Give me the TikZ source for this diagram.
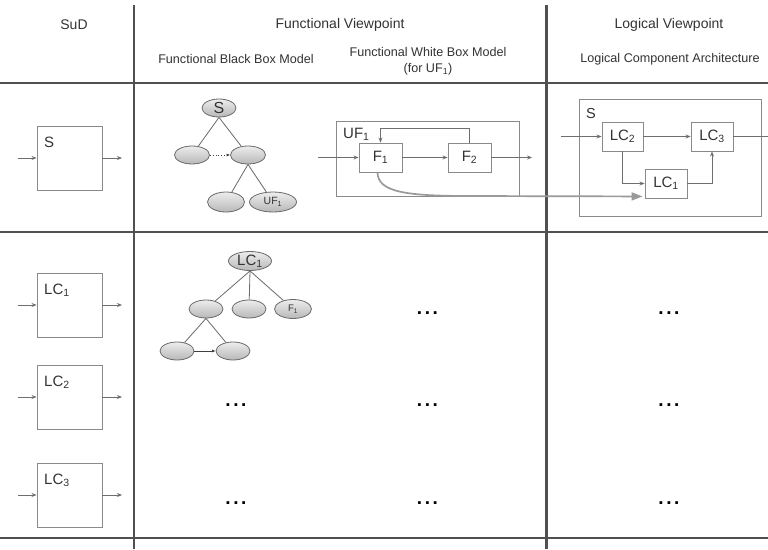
\documentclass[tikz,border=0pt]{standalone}
\usepackage{fontspec}
\setmainfont{Liberation Sans}
\usetikzlibrary{arrows.meta,shapes.geometric,calc}
\definecolor{gridc}{HTML}{505050}
\definecolor{txt}{HTML}{333333}
\definecolor{boxc}{HTML}{8A8A8A}
\definecolor{arrc}{HTML}{6E6E6E}
\definecolor{ellc}{HTML}{6A6A6A}
\definecolor{curvec}{HTML}{9A9A9A}
\newcommand{\subs}[1]{\textsubscript{#1}}
\newcommand{\mydots}{.\kern2.6pt.\kern2.6pt.}
\begin{document}
\begin{tikzpicture}[x=1pt,y=-1pt,
  grid/.style={draw=gridc,line width=2.3pt},
  hdr/.style={font=\fontsize{14}{16}\selectfont,text=txt,inner sep=0},
  subhdr/.style={font=\fontsize{12.6}{16}\selectfont,text=txt,inner sep=0},
  sbox/.style={draw=boxc,line width=0.9pt,inner sep=0,minimum width=65pt,minimum height=64pt},
  fbox/.style={draw=boxc,line width=0.9pt,inner sep=0,minimum width=43pt,minimum height=29pt,font=\fontsize{15}{15}\selectfont,text=txt},
  lab/.style={inner sep=0,anchor=base west,font=\fontsize{15}{15}\selectfont,text=txt},
  frame/.style={draw=boxc,line width=0.9pt,inner sep=0},
  arr/.style={draw=arrc,line width=0.8pt,-{Stealth[length=5pt,width=4pt]}},
  plain/.style={draw=arrc,line width=0.8pt},
  tnode/.style={ellipse,draw=ellc,line width=0.8pt,top color=white!93!black,bottom color=white!72!black,inner sep=0,text=txt},
  tline/.style={draw=ellc,line width=0.8pt},
  dotsn/.style={font=\fontsize{19}{19}\selectfont\bfseries,anchor=base,inner sep=0,text=black}
]
\useasboundingbox (0,0) rectangle (768,549);
\fill[white] (0,0) rectangle (768,549);

% grid
\draw[grid] (0,83) -- (768,83);
\draw[grid] (0,232) -- (768,232);
\draw[grid] (0,538) -- (768,538);
\draw[grid] (134,5) -- (134,549);
\draw[grid] (546.5,5) -- (546.5,549);

% headers
\node[hdr] (hsud) at (74,25) {SuD};
\node[hdr] (hfv) at (340,25) {Functional Viewpoint};
\node[hdr] (hlv) at (669,25) {Logical Viewpoint};
\node[subhdr] (hbb) at (236,59) {Functional Black Box Model};
\node[subhdr,align=center] (hwb) at (428,61) {Functional White Box Model\\(for UF\subs{1})};
\node[subhdr] (hla) at (670,59) {Logical Component Architecture};

% SuD boxes
\node[sbox] (sS) at (69.5,158) {};
\node[lab] (sSl) at (44,147) {S};
\coordinate (sSin) at (18,158);
\coordinate (sSout) at (122,158);
\draw[arr] (sSin) -- (sS.west);
\draw[arr] (sS.east) -- (sSout);

\node[sbox] (sL1) at (69.5,305) {};
\node[lab] (sL1l) at (44,294) {LC\subs{1}};
\coordinate (sL1in) at (18,305);
\coordinate (sL1out) at (122,305);
\draw[arr] (sL1in) -- (sL1.west);
\draw[arr] (sL1.east) -- (sL1out);

\node[sbox] (sL2) at (69.5,397) {};
\node[lab] (sL2l) at (44,386) {LC\subs{2}};
\coordinate (sL2in) at (18,397);
\coordinate (sL2out) at (122,397);
\draw[arr] (sL2in) -- (sL2.west);
\draw[arr] (sL2.east) -- (sL2out);

\node[sbox] (sL3) at (69.5,495) {};
\node[lab] (sL3l) at (44,484) {LC\subs{3}};
\coordinate (sL3in) at (18,495);
\coordinate (sL3out) at (122,495);
\draw[arr] (sL3in) -- (sL3.west);
\draw[arr] (sL3.east) -- (sL3out);

% black box tree (row 1)
\node[tnode,minimum width=34pt,minimum height=18pt,font=\fontsize{16}{16}\selectfont] (t1S) at (219,108) {S};
\node[tnode,minimum width=35pt,minimum height=18pt] (t1L) at (192,155) {};
\node[tnode,minimum width=35pt,minimum height=18pt] (t1R) at (248,155) {};
\node[tnode,minimum width=37pt,minimum height=20pt] (t1BL) at (226,202) {};
\node[tnode,minimum width=47pt,minimum height=20pt,font=\fontsize{10.5}{10}\selectfont] (t1UF) at (273,202) {UF\subs{1}};
\draw[tline] (t1S.south) -- (t1L);
\draw[tline] (t1S.south) -- (t1R);
\draw[tline] (t1R.south) -- (t1BL);
\draw[tline] (t1R.south) -- (t1UF);
\draw[draw=black!75,line width=0.8pt,dotted,-{Latex[length=3.5pt,width=3pt]}] (t1L.east) -- (t1R.west);

% black box tree (row 2)
\node[tnode,minimum width=43pt,minimum height=19pt,font=\fontsize{15}{15}\selectfont] (t2R) at (250,261) {LC\subs{1}};
\node[tnode,minimum width=34pt,minimum height=18pt] (t2L) at (206,309) {};
\node[tnode,minimum width=34pt,minimum height=18pt] (t2M) at (249,309) {};
\node[tnode,minimum width=37pt,minimum height=19pt,font=\fontsize{9.5}{9}\selectfont] (t2F) at (293,309) {F\subs{1}};
\node[tnode,minimum width=34pt,minimum height=18pt] (t2BL) at (177,351) {};
\node[tnode,minimum width=34pt,minimum height=18pt] (t2BR) at (233,351) {};
\draw[tline] (t2R.south) -- (t2L);
\draw[tline] (t2R.south) -- (t2M);
\draw[tline] (t2R.south) -- (t2F);
\draw[tline] (t2L.south) -- (t2BL);
\draw[tline] (t2L.south) -- (t2BR);
\draw[draw=black!75,line width=0.8pt,-{Latex[length=3.5pt,width=3pt]}] (t2BL.east) -- (t2BR.west);

% white box model
\node[frame,minimum width=183pt,minimum height=75pt] (uf) at (427.5,158.5) {};
\node[lab] (ufl) at (343,138) {UF\subs{1}};
\node[fbox] (f1) at (380.5,157.5) {F\subs{1}};
\node[fbox] (f2) at (469.5,157.5) {F\subs{2}};
\coordinate (fin) at (318,157.5);
\coordinate (fout) at (532,157.5);
\draw[arr] (fin) -- (f1.west);
\draw[arr] (f1.east) -- (f2.west);
\draw[arr] (f2.east) -- (fout);
\draw[arr] (f2.north) -- ++(0,-14) -| (f1.north);

% logical architecture
\node[frame,minimum width=182pt,minimum height=117pt] (ls) at (670,157.5) {};
\node[lab,font=\fontsize{14.5}{15}\selectfont] (lsl) at (586,118) {S};
\node[fbox,minimum width=41pt] (lc2) at (622.5,136.5) {LC\subs{2}};
\node[fbox,minimum width=42pt] (lc3) at (712,136.5) {LC\subs{3}};
\node[fbox,minimum width=42pt] (lc1) at (666,183.5) {LC\subs{1}};
\coordinate (lin) at (561,136.5);
\coordinate (lout) at (768,136.5);
\draw[arr] (lin) -- (lc2.west);
\draw[arr] (lc2.east) -- (lc3.west);
\draw[plain] (lc3.east) -- (lout);
\draw[arr] (lc2.south) |- (lc1.west);
\draw[arr] (lc1.east) -| (lc3.south);

% trace curve F1 -> LC1
\coordinate (ctip) at ([shift={(-2,-2)}]lc1.south west);
\draw[draw=curvec,line width=1.7pt,-{Triangle[length=11pt,width=8pt,fill=curvec]}]
  ([shift={(-3,0)}]f1.south) .. controls (378,192) and (405,196) .. (470,196) -- (ctip);

% ellipses
\node[dotsn] (d21) at (236,406) {\mydots};
\node[dotsn] (d22) at (236,504) {\mydots};
\node[dotsn] (d30) at (427.5,314) {\mydots};
\node[dotsn] (d31) at (427.5,406) {\mydots};
\node[dotsn] (d32) at (427.5,504) {\mydots};
\node[dotsn] (d40) at (669,314) {\mydots};
\node[dotsn] (d41) at (669,406) {\mydots};
\node[dotsn] (d42) at (669,504) {\mydots};
\end{tikzpicture}
\end{document}
